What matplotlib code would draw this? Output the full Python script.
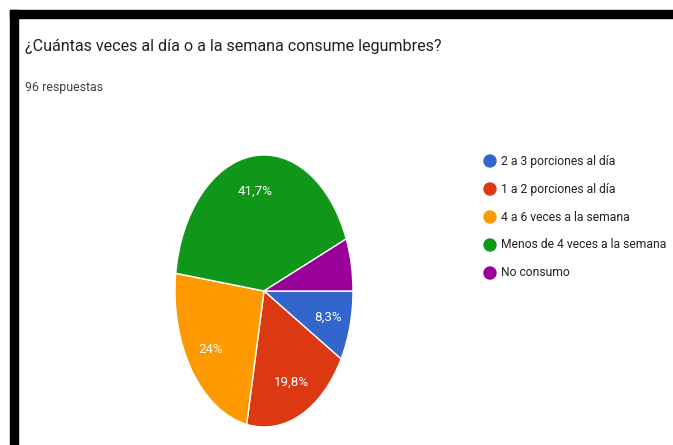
import matplotlib
matplotlib.use("Agg")
import matplotlib.pyplot as plt
from matplotlib.patches import Rectangle, Ellipse

# Respuestas por categoría (96 en total)
categorias = [
    "2 a 3 porciones al día",
    "1 a 2 porciones al día",
    "4 a 6 veces a la semana",
    "Menos de 4 veces a la semana",
    "No consumo",
]
respuestas = [8, 19, 23, 40, 6]
colores = ["#3366cc", "#dc3912", "#ff9900", "#109618", "#990099"]

titulo = "¿Cuántas veces al día o a la semana consume legumbres?"
subtitulo = "96 respuestas"

plt.rcParams["font.family"] = ["Roboto", "DejaVu Sans"]

W, H = 673, 445
fig = plt.figure(figsize=(W / 100, H / 100), dpi=100)
fig.patch.set_facecolor("white")


def px(x, y):
    return x / W, 1 - y / H


# marco negro superior e izquierdo
fig.patches.append(Rectangle(px(10, 18), (W - 10) / W, 8 / H,
                             transform=fig.transFigure, color="black"))
fig.patches.append(Rectangle(px(10, H), 8 / W, (H - 10) / H,
                             transform=fig.transFigure, color="black"))

fig.text(*px(25, 46), titulo, fontsize=11.6, color="#212121", va="center")
fig.text(*px(25, 87), subtitulo, fontsize=8.9, color="#424242", va="center")


def etiqueta(pct):
    if pct < 7:
        return ""
    s = f"{pct:.1f}".replace(".", ",")
    if s.endswith(",0"):
        s = s[:-2]
    return s + "%"


ax = fig.add_axes([175 / W, (H - 427) / H, 178 / W, 272 / H])
wedges, textos, pcts = ax.pie(
    respuestas,
    colors=colores,
    startangle=0,
    counterclock=False,
    autopct=etiqueta,
    pctdistance=0.74,
    wedgeprops={"edgecolor": "white", "linewidth": 1},
    textprops={"color": "white", "fontsize": 9.6},
)
ax.set_aspect("auto")
ax.set_xlim(-1, 1)
ax.set_ylim(-1, 1)
ax.axis("off")

# leyenda a la derecha
for i, (nombre, color) in enumerate(zip(categorias, colores)):
    y = 161 + i * 28
    fig.patches.append(Ellipse(px(490, y), 12 / W, 12 / H,
                               transform=fig.transFigure, color=color))
    fig.text(*px(501, y), nombre, fontsize=8.7, color="#222222", va="center")

fig.savefig("out.png", dpi=100)
